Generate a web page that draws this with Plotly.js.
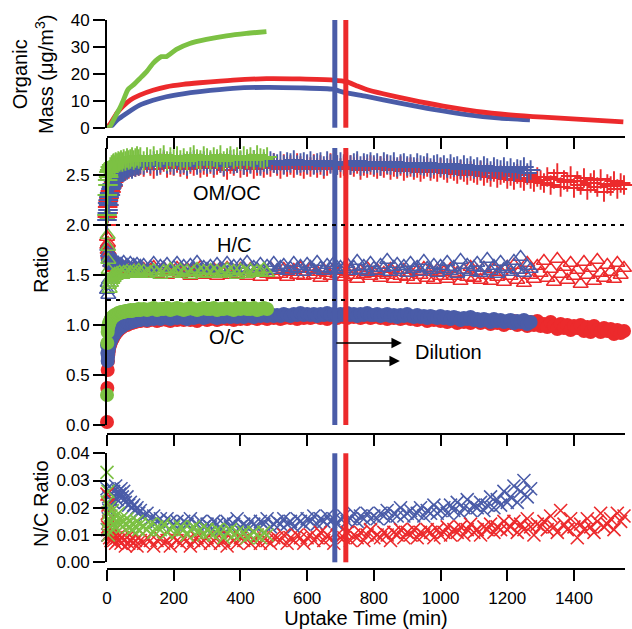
<!DOCTYPE html>
<html>
<head>
<meta charset="utf-8">
<script src="https://cdn.plot.ly/plotly-3.0.1.min.js"></script>
<style>
  html, body { margin: 0; padding: 0; background: #fff; }
  #chart { width: 632px; height: 629px; }
</style>
</head>
<body>
<div id="chart"></div>
<script>
// ---- Experiment colours ----
const RED = '#EC2A2C';
const BLUE = '#4A5CA8';
const GREEN = '#7CC143';

// ---- Organic mass (µg/m3) vs uptake time (min) ----
const massTimeGreen = [0, 8, 22, 38, 50, 63, 80, 98, 120, 138, 163, 178, 208, 248, 298, 358, 418, 478];
const massGreen     = [0, 0.3, 3.5, 7.2, 10.5, 14.2, 16.0, 18.2, 21.0, 23.9, 26.4, 26.4, 29.1, 31.3, 32.8, 34.1, 35.0, 35.7];

const massTimeRed = [0, 10, 30, 48, 70, 98, 138, 178, 228, 278, 378, 478, 578, 678, 718, 748, 778, 828, 908, 1008, 1108, 1208, 1308, 1408, 1548];
const massRed     = [0, 1.5, 5.5, 8.0, 10.3, 12.1, 13.9, 15.2, 16.1, 16.7, 17.7, 18.2, 18.1, 17.7, 17.1, 15.6, 14.2, 12.6, 10.4, 8.0, 6.1, 4.8, 3.9, 3.2, 2.2];

const massTimeBlue = [0, 8, 30, 58, 98, 138, 178, 228, 278, 378, 478, 578, 678, 708, 778, 878, 978, 1078, 1178, 1268];
const massBlue     = [0, 0, 2.8, 5.3, 8.4, 10.2, 11.5, 12.6, 13.4, 14.6, 15.0, 14.8, 14.3, 13.2, 11.6, 9.1, 6.8, 4.9, 3.6, 2.9];

// ---- Composition sampling times (min) ----
const tGreen = [0, 1, 2, 3, 4, 5, 6, 8, 10, 12, 14, 16, 18, 20, 23, 26, 30, 34, 38, 42,
  46, 50, 55, 60, 65, 70, 75, 80, 85, 90, 95, 100,
  110, 120, 130, 140, 150, 160, 170, 180, 190, 200,
  210, 220, 230, 240, 250, 260, 270, 280, 290, 300,
  310, 320, 330, 340, 350, 360, 370, 380, 390, 400,
  410, 420, 430, 440, 450, 460, 470, 480];

const tBlue = [0, 1, 2, 3, 4, 5, 6, 8, 10, 12, 14, 16, 18, 20, 23, 26, 30, 34, 38, 42,
  46, 50, 55, 60, 65, 70, 75, 80, 85, 90, 95, 100,
  110, 120, 130, 140, 150, 160, 170, 180, 190, 200,
  210, 220, 230, 240, 250, 260, 270, 280, 290, 300,
  310, 320, 330, 340, 350, 360, 370, 380, 390, 400,
  410, 420, 430, 440, 450, 460, 470, 480, 490, 500,
  510, 520, 530, 540, 550, 560, 570, 580, 590, 600,
  610, 620, 630, 640, 650, 660, 670, 680, 690, 700,
  710, 720, 730, 740, 750, 760, 770, 780, 790, 800,
  810, 820, 830, 840, 850, 860, 870, 880, 890, 900,
  910, 920, 930, 940, 950, 960, 970, 980, 990, 1000,
  1010, 1020, 1030, 1040, 1050, 1060, 1070, 1080, 1090, 1100,
  1110, 1120, 1130, 1140, 1150, 1160, 1170, 1180, 1190, 1200,
  1210, 1220, 1230, 1240, 1250, 1260, 1270];

const tRed = [0, 1, 2, 3, 4, 5, 6, 8, 10, 12, 14, 16, 18, 20, 23, 26, 30, 34, 38, 42,
  46, 50, 55, 60, 65, 70, 75, 80, 85, 90, 95, 100,
  110, 120, 130, 140, 150, 160, 170, 180, 190, 200,
  210, 220, 230, 240, 250, 260, 270, 280, 290, 300,
  310, 320, 330, 340, 350, 360, 370, 380, 390, 400,
  410, 420, 430, 440, 450, 460, 470, 480, 490, 500,
  510, 520, 530, 540, 550, 560, 570, 580, 590, 600,
  610, 620, 630, 640, 650, 660, 670, 680, 690, 700,
  710, 720, 730, 740, 750, 760, 770, 780, 790, 800,
  810, 820, 830, 840, 850, 860, 870, 880, 890, 900,
  910, 920, 930, 940, 950, 960, 970, 980, 990, 1000,
  1010, 1020, 1030, 1040, 1050, 1060, 1070, 1080, 1090, 1100,
  1110, 1120, 1130, 1140, 1150, 1160, 1170, 1180, 1190, 1200,
  1210, 1220, 1230, 1240, 1250, 1260, 1270, 1280, 1290, 1300,
  1310, 1320, 1330, 1340, 1350, 1360, 1370, 1380, 1390, 1400,
  1410, 1420, 1430, 1440, 1450, 1460, 1470, 1480, 1490, 1500,
  1510, 1520, 1530, 1540, 1550];

// ---- OM/OC ----
const omocGreen = [2.10, 2.30, 2.45, 2.40, 2.50, 2.48, 2.53, 2.55, 2.58, 2.56,
  2.60, 2.58, 2.61, 2.62, 2.60, 2.63, 2.62, 2.64, 2.63, 2.65,
  2.63, 2.66, 2.64, 2.67, 2.65, 2.66, 2.68, 2.65, 2.67, 2.69,
  2.66, 2.68,
  2.64, 2.68, 2.66, 2.69, 2.65, 2.67, 2.70, 2.64, 2.68, 2.66,
  2.69, 2.65, 2.67, 2.64, 2.68, 2.70, 2.66, 2.65, 2.69, 2.67,
  2.65, 2.68, 2.66, 2.70, 2.64, 2.67, 2.69, 2.66, 2.68, 2.65,
  2.69, 2.66, 2.68, 2.65, 2.70, 2.67, 2.66, 2.68];
const omocBlue = [2.05, 2.12, 2.22, 2.15, 2.25, 2.20, 2.28, 2.32, 2.30, 2.36,
  2.38, 2.41, 2.40, 2.44, 2.46, 2.45, 2.49, 2.51, 2.50, 2.53,
  2.54, 2.53, 2.56, 2.55, 2.57, 2.58, 2.56, 2.59, 2.58, 2.60,
  2.59, 2.61,
  2.60, 2.63, 2.61, 2.64, 2.59, 2.62, 2.65, 2.61, 2.63, 2.60,
  2.64, 2.61, 2.62, 2.59, 2.63, 2.65, 2.60, 2.62, 2.64, 2.61,
  2.63, 2.60, 2.64, 2.62, 2.59, 2.63, 2.65, 2.61, 2.62, 2.64,
  2.60, 2.63, 2.61, 2.65, 2.62, 2.59, 2.63, 2.61, 2.64, 2.62,
  2.61, 2.64, 2.60, 2.63, 2.62, 2.65, 2.60, 2.62, 2.63, 2.61,
  2.64, 2.60, 2.62, 2.63, 2.59, 2.64, 2.61, 2.62, 2.60, 2.63,
  2.61, 2.63, 2.60, 2.62, 2.64, 2.59, 2.62, 2.61, 2.63, 2.60,
  2.62, 2.59, 2.63, 2.61, 2.60, 2.63, 2.58, 2.61, 2.62, 2.59,
  2.61, 2.58, 2.62, 2.60, 2.59, 2.62, 2.57, 2.60, 2.61, 2.58,
  2.60, 2.57, 2.61, 2.58, 2.59, 2.56, 2.60, 2.57, 2.59, 2.56,
  2.58, 2.55, 2.59, 2.57, 2.54, 2.58, 2.56, 2.55, 2.58, 2.54,
  2.57, 2.53, 2.56, 2.55, 2.58, 2.52, 2.55];
const omocRed = [2.00, 2.08, 2.18, 2.12, 2.24, 2.20, 2.27, 2.30, 2.34, 2.33,
  2.37, 2.40, 2.39, 2.43, 2.45, 2.47, 2.48, 2.50, 2.52, 2.51,
  2.54, 2.55, 2.54, 2.57, 2.56, 2.58, 2.57, 2.59, 2.58, 2.60,
  2.59, 2.60,
  2.58, 2.62, 2.59, 2.56, 2.61, 2.60, 2.63, 2.57, 2.60, 2.59,
  2.62, 2.58, 2.60, 2.56, 2.61, 2.59, 2.63, 2.57, 2.60, 2.58,
  2.61, 2.57, 2.60, 2.62, 2.58, 2.55, 2.61, 2.59, 2.62, 2.57,
  2.60, 2.58, 2.62, 2.56, 2.59, 2.61, 2.57, 2.60, 2.58, 2.62,
  2.59, 2.56, 2.61, 2.58, 2.60, 2.57, 2.62, 2.59, 2.56, 2.60,
  2.58, 2.61, 2.57, 2.60, 2.56, 2.59, 2.62, 2.58, 2.60, 2.57,
  2.59, 2.56, 2.60, 2.58, 2.61, 2.55, 2.59, 2.57, 2.60, 2.58,
  2.56, 2.59, 2.57, 2.60, 2.55, 2.58, 2.56, 2.59, 2.54, 2.57,
  2.58, 2.55, 2.57, 2.53, 2.56, 2.58, 2.54, 2.56, 2.53, 2.57,
  2.55, 2.52, 2.56, 2.54, 2.51, 2.55, 2.53, 2.50, 2.54, 2.52,
  2.50, 2.54, 2.49, 2.52, 2.48, 2.53, 2.47, 2.50, 2.52, 2.46,
  2.49, 2.45, 2.51, 2.47, 2.44, 2.50, 2.46, 2.43, 2.48, 2.45,
  2.42, 2.48, 2.40, 2.46, 2.52, 2.38, 2.45, 2.43, 2.49, 2.37,
  2.44, 2.40, 2.47, 2.35, 2.42, 2.45, 2.38, 2.46, 2.33, 2.41,
  2.39, 2.44, 2.36, 2.42, 2.40];

// ---- H/C ----
const hcGreen = [2.48, 2.10, 1.90, 1.78, 1.65, 1.55, 1.40, 1.36, 1.45, 1.42,
  1.48, 1.45, 1.50, 1.47, 1.51, 1.49, 1.52, 1.50, 1.53, 1.51,
  1.50, 1.53, 1.52, 1.54, 1.51, 1.53, 1.52, 1.54, 1.51, 1.53,
  1.55, 1.52,
  1.54, 1.51, 1.53, 1.55, 1.52, 1.50, 1.54, 1.53, 1.56, 1.51,
  1.53, 1.55, 1.52, 1.54, 1.50, 1.53, 1.56, 1.52, 1.54, 1.51,
  1.55, 1.52, 1.54, 1.51, 1.53, 1.56, 1.52, 1.54, 1.50, 1.55,
  1.53, 1.51, 1.55, 1.52, 1.54, 1.53, 1.56, 1.52];
const hcBlue = [1.35, 1.78, 1.42, 1.72, 1.30, 1.68, 1.45, 1.66, 1.62, 1.70,
  1.64, 1.60, 1.66, 1.62, 1.59, 1.64, 1.60, 1.62, 1.58, 1.61,
  1.59, 1.63, 1.57, 1.60, 1.58, 1.62, 1.56, 1.60, 1.58, 1.61,
  1.57, 1.59,
  1.60, 1.55, 1.58, 1.62, 1.54, 1.59, 1.57, 1.61, 1.53, 1.58,
  1.62, 1.56, 1.59, 1.54, 1.60, 1.57, 1.63, 1.55, 1.58, 1.56,
  1.59, 1.54, 1.61, 1.57, 1.55, 1.62, 1.56, 1.59, 1.53, 1.60,
  1.57, 1.63, 1.55, 1.58, 1.56, 1.61, 1.54, 1.59, 1.57, 1.62,
  1.55, 1.58, 1.60, 1.54, 1.57, 1.62, 1.56, 1.59, 1.53, 1.61,
  1.58, 1.55, 1.63, 1.57, 1.54, 1.60, 1.56, 1.62, 1.55, 1.58,
  1.56, 1.61, 1.54, 1.58, 1.64, 1.55, 1.59, 1.53, 1.62, 1.57,
  1.54, 1.60, 1.57, 1.65, 1.53, 1.58, 1.61, 1.55, 1.59, 1.52,
  1.62, 1.56, 1.58, 1.53, 1.64, 1.57, 1.55, 1.60, 1.52, 1.59,
  1.56, 1.63, 1.54, 1.58, 1.51, 1.65, 1.55, 1.60, 1.53, 1.58,
  1.62, 1.52, 1.57, 1.66, 1.54, 1.59, 1.51, 1.63, 1.56, 1.58,
  1.53, 1.64, 1.55, 1.68, 1.52, 1.59, 1.56];
const hcRed = [1.88, 1.80, 1.75, 1.82, 1.70, 1.74, 1.66, 1.70, 1.62, 1.66,
  1.60, 1.63, 1.58, 1.61, 1.57, 1.60, 1.56, 1.59, 1.55, 1.58,
  1.56, 1.54, 1.58, 1.55, 1.57, 1.53, 1.56, 1.54, 1.57, 1.53,
  1.56, 1.54,
  1.56, 1.52, 1.55, 1.58, 1.51, 1.54, 1.57, 1.50, 1.55, 1.53,
  1.57, 1.51, 1.54, 1.56, 1.49, 1.55, 1.52, 1.58, 1.50, 1.54,
  1.52, 1.56, 1.49, 1.55, 1.53, 1.57, 1.50, 1.54, 1.51, 1.56,
  1.53, 1.49, 1.56, 1.52, 1.55, 1.48, 1.54, 1.51, 1.57, 1.50,
  1.54, 1.51, 1.56, 1.48, 1.53, 1.55, 1.50, 1.57, 1.49, 1.53,
  1.56, 1.50, 1.53, 1.47, 1.55, 1.52, 1.49, 1.56, 1.51, 1.54,
  1.48, 1.53, 1.56, 1.50, 1.46, 1.54, 1.51, 1.57, 1.49, 1.52,
  1.55, 1.47, 1.52, 1.50, 1.56, 1.46, 1.53, 1.49, 1.55, 1.48,
  1.52, 1.45, 1.54, 1.50, 1.57, 1.47, 1.53, 1.45, 1.55, 1.49,
  1.53, 1.46, 1.56, 1.49, 1.52, 1.44, 1.55, 1.48, 1.58, 1.47,
  1.54, 1.45, 1.57, 1.50, 1.44, 1.56, 1.48, 1.53, 1.43, 1.58,
  1.49, 1.60, 1.45, 1.55, 1.42, 1.62, 1.50, 1.46, 1.59, 1.52,
  1.64, 1.47, 1.56, 1.43, 1.66, 1.51, 1.58, 1.45, 1.62, 1.49,
  1.55, 1.41, 1.63, 1.50, 1.57, 1.44, 1.65, 1.52, 1.47, 1.60,
  1.53, 1.46, 1.62, 1.50, 1.57];

// ---- O/C ----
const ocGreen = [0.30, 0.82, 0.93, 0.97, 0.99, 1.00, 1.02, 1.03, 1.05, 1.06,
  1.07, 1.08, 1.08, 1.09, 1.10, 1.10, 1.11, 1.12, 1.12, 1.13,
  1.13, 1.13, 1.14, 1.14, 1.14, 1.15, 1.14, 1.15, 1.15, 1.15,
  1.16, 1.15,
  1.16, 1.15, 1.16, 1.17, 1.15, 1.16, 1.16, 1.17, 1.15, 1.16,
  1.17, 1.16, 1.15, 1.16, 1.17, 1.16, 1.15, 1.16, 1.17, 1.16,
  1.16, 1.17, 1.15, 1.16, 1.16, 1.17, 1.16, 1.15, 1.17, 1.16,
  1.17, 1.16, 1.16, 1.17, 1.15, 1.16, 1.17, 1.16];
const ocBlue = [0.80, 0.72, 0.64, 0.68, 0.73, 0.76, 0.78, 0.81, 0.83, 0.85,
  0.86, 0.88, 0.89, 0.90, 0.92, 0.93, 0.95, 0.96, 0.97, 0.98,
  0.99, 1.00, 1.01, 1.02, 1.02, 1.03, 1.03, 1.04, 1.04, 1.05,
  1.05, 1.05,
  1.06, 1.05, 1.07, 1.06, 1.07, 1.06, 1.08, 1.07, 1.06, 1.08,
  1.07, 1.08, 1.07, 1.06, 1.08, 1.07, 1.08, 1.09, 1.07, 1.08,
  1.09, 1.08, 1.07, 1.09, 1.08, 1.09, 1.08, 1.10, 1.08, 1.09,
  1.08, 1.10, 1.09, 1.08, 1.10, 1.09, 1.10, 1.09, 1.11, 1.09,
  1.10, 1.09, 1.11, 1.10, 1.09, 1.11, 1.10, 1.12, 1.10, 1.11,
  1.10, 1.11, 1.09, 1.11, 1.10, 1.12, 1.10, 1.11, 1.09, 1.11,
  1.10, 1.12, 1.10, 1.11, 1.09, 1.11, 1.10, 1.12, 1.10, 1.10,
  1.11, 1.09, 1.10, 1.11, 1.09, 1.10, 1.08, 1.10, 1.09, 1.11,
  1.09, 1.08, 1.10, 1.08, 1.09, 1.07, 1.09, 1.08, 1.07, 1.09,
  1.07, 1.08, 1.06, 1.08, 1.07, 1.05, 1.07, 1.06, 1.08, 1.05,
  1.06, 1.04, 1.06, 1.05, 1.03, 1.06, 1.04, 1.05, 1.03, 1.04,
  1.05, 1.02, 1.04, 1.03, 1.05, 1.01, 1.03];
const ocRed = [0.03, 0.37, 0.55, 0.64, 0.70, 0.73, 0.76, 0.79, 0.81, 0.83,
  0.85, 0.86, 0.87, 0.89, 0.90, 0.92, 0.93, 0.95, 0.96, 0.97,
  0.98, 0.99, 1.00, 1.00, 1.01, 1.02, 1.02, 1.03, 1.03, 1.04,
  1.04, 1.04,
  1.05, 1.04, 1.05, 1.06, 1.04, 1.05, 1.06, 1.05, 1.04, 1.06,
  1.05, 1.06, 1.05, 1.07, 1.05, 1.06, 1.04, 1.06, 1.07, 1.05,
  1.06, 1.07, 1.05, 1.06, 1.08, 1.06, 1.07, 1.05, 1.07, 1.06,
  1.07, 1.06, 1.08, 1.07, 1.06, 1.08, 1.07, 1.06, 1.08, 1.07,
  1.08, 1.06, 1.07, 1.09, 1.07, 1.08, 1.06, 1.08, 1.07, 1.09,
  1.07, 1.08, 1.09, 1.07, 1.08, 1.06, 1.09, 1.08, 1.07, 1.09,
  1.08, 1.07, 1.09, 1.08, 1.10, 1.07, 1.08, 1.09, 1.07, 1.08,
  1.09, 1.07, 1.08, 1.06, 1.08, 1.07, 1.09, 1.06, 1.07, 1.08,
  1.06, 1.07, 1.05, 1.07, 1.06, 1.04, 1.06, 1.05, 1.07, 1.04,
  1.05, 1.03, 1.05, 1.04, 1.02, 1.05, 1.03, 1.04, 1.02, 1.04,
  1.04, 1.02, 1.05, 1.03, 1.01, 1.04, 1.02, 1.03, 1.00, 1.03,
  1.02, 1.04, 1.00, 1.03, 1.01, 0.99, 1.03, 1.00, 1.04, 0.99,
  1.01, 0.98, 1.03, 0.99, 0.96, 1.01, 0.97, 1.00, 0.95, 0.99,
  0.97, 1.00, 0.94, 0.98, 0.93, 0.99, 0.95, 0.93, 0.97, 0.94,
  0.96, 0.91, 0.95, 0.92, 0.94];

// ---- N/C ----
const ncGreen = [0.033, 0.022, 0.012, 0.026, 0.010, 0.018, 0.015, 0.020, 0.013, 0.017,
  0.015, 0.019, 0.014, 0.016, 0.013, 0.017, 0.015, 0.018, 0.014, 0.016,
  0.013, 0.015, 0.014, 0.016, 0.013, 0.015, 0.012, 0.014, 0.013, 0.015,
  0.012, 0.014,
  0.013, 0.012, 0.014, 0.011, 0.013, 0.012, 0.014, 0.011, 0.012, 0.013,
  0.011, 0.013, 0.012, 0.010, 0.012, 0.013, 0.011, 0.012, 0.010, 0.012,
  0.011, 0.010, 0.012, 0.011, 0.009, 0.011, 0.012, 0.010, 0.011, 0.010,
  0.011, 0.009, 0.010, 0.011, 0.010, 0.009, 0.011, 0.010];
const ncBlue = [0.027, 0.012, 0.010, 0.022, 0.016, 0.024, 0.019, 0.026, 0.021, 0.025,
  0.023, 0.027, 0.022, 0.026, 0.024, 0.028, 0.023, 0.026, 0.025, 0.027,
  0.024, 0.026, 0.022, 0.024, 0.021, 0.022, 0.020, 0.021, 0.019, 0.020,
  0.018, 0.019,
  0.017, 0.018, 0.016, 0.017, 0.015, 0.016, 0.014, 0.016, 0.015, 0.014,
  0.015, 0.013, 0.015, 0.014, 0.016, 0.013, 0.014, 0.015, 0.013, 0.014,
  0.013, 0.015, 0.014, 0.012, 0.014, 0.015, 0.013, 0.014, 0.016, 0.013,
  0.014, 0.013, 0.015, 0.014, 0.013, 0.015, 0.014, 0.016, 0.013, 0.014,
  0.015, 0.014, 0.016, 0.014, 0.015, 0.013, 0.016, 0.015, 0.014, 0.016,
  0.015, 0.017, 0.014, 0.016, 0.015, 0.017, 0.015, 0.016, 0.014, 0.016,
  0.017, 0.015, 0.016, 0.018, 0.015, 0.017, 0.016, 0.018, 0.016, 0.017,
  0.016, 0.018, 0.017, 0.019, 0.016, 0.018, 0.017, 0.020, 0.017, 0.018,
  0.019, 0.017, 0.018, 0.020, 0.017, 0.019, 0.018, 0.021, 0.018, 0.019,
  0.020, 0.018, 0.021, 0.019, 0.022, 0.018, 0.020, 0.023, 0.019, 0.021,
  0.020, 0.022, 0.019, 0.021, 0.024, 0.020, 0.023, 0.021, 0.026, 0.022,
  0.024, 0.028, 0.022, 0.026, 0.030, 0.024, 0.027];
const ncRed = [0.025, 0.018, 0.013, 0.021, 0.010, 0.015, 0.012, 0.009, 0.011, 0.008,
  0.010, 0.009, 0.011, 0.008, 0.010, 0.007, 0.009, 0.008, 0.010, 0.007,
  0.009, 0.008, 0.006, 0.009, 0.007, 0.008, 0.009, 0.007, 0.008, 0.006,
  0.009, 0.008,
  0.007, 0.009, 0.008, 0.006, 0.008, 0.009, 0.007, 0.008, 0.006, 0.009,
  0.008, 0.007, 0.009, 0.008, 0.006, 0.008, 0.009, 0.007, 0.008, 0.009,
  0.007, 0.008, 0.009, 0.007, 0.008, 0.006, 0.009, 0.008, 0.007, 0.009,
  0.008, 0.009, 0.007, 0.008, 0.010, 0.007, 0.009, 0.008, 0.007, 0.009,
  0.009, 0.008, 0.010, 0.007, 0.009, 0.008, 0.010, 0.009, 0.007, 0.009,
  0.010, 0.008, 0.009, 0.011, 0.008, 0.010, 0.009, 0.007, 0.010, 0.009,
  0.009, 0.011, 0.008, 0.010, 0.009, 0.011, 0.008, 0.010, 0.012, 0.009,
  0.010, 0.009, 0.011, 0.010, 0.008, 0.011, 0.010, 0.012, 0.009, 0.011,
  0.010, 0.012, 0.009, 0.011, 0.010, 0.012, 0.011, 0.009, 0.012, 0.010,
  0.011, 0.013, 0.010, 0.012, 0.011, 0.013, 0.010, 0.012, 0.014, 0.011,
  0.012, 0.010, 0.013, 0.012, 0.014, 0.011, 0.013, 0.012, 0.015, 0.012,
  0.013, 0.015, 0.011, 0.014, 0.012, 0.016, 0.013, 0.010, 0.014, 0.013,
  0.015, 0.012, 0.017, 0.013, 0.011, 0.019, 0.014, 0.012, 0.016, 0.013,
  0.009, 0.014, 0.012, 0.016, 0.013, 0.011, 0.015, 0.018, 0.013, 0.014,
  0.016, 0.012, 0.018, 0.015, 0.017];

// ---- Dilution start (min) and guide levels ----
const dilutionStartBlue = 683;
const dilutionStartRed = 716;
const separatorLevels = [2.0, 1.25];

const FONT = 'Liberation Sans, Arial, Helvetica, sans-serif';

function massLine(x, y, color, name) {
  return { type: 'scatter', mode: 'lines', x, y, name, xaxis: 'x3', yaxis: 'y3',
           line: { color, width: 4.8, shape: 'spline', smoothing: 0.6 } };
}
function pts(x, y, color, symbol, size, ax, ay, name, lw) {
  const filled = symbol === 'circle';
  return { type: 'scatter', mode: 'markers', x, y, name, xaxis: ax, yaxis: ay, cliponaxis: false,
           marker: { symbol, size, color,
                     line: { color, width: filled ? 0 : (lw || 1.5) } } };
}

const traces = [
  // organic mass
  massLine(massTimeBlue, massBlue, BLUE, 'mass blue'),
  massLine(massTimeRed, massRed, RED, 'mass red'),
  massLine(massTimeGreen, massGreen, GREEN, 'mass green'),
  // elemental ratios
  pts(tRed, ocRed, RED, 'circle', 14, 'x2', 'y2', 'O/C red'),
  pts(tBlue, ocBlue, BLUE, 'circle', 14, 'x2', 'y2', 'O/C blue'),
  pts(tGreen, ocGreen, GREEN, 'circle', 14, 'x2', 'y2', 'O/C green'),
  pts(tRed, hcRed, RED, 'triangle-up-open', 13, 'x2', 'y2', 'H/C red', 1.5),
  pts(tBlue, hcBlue, BLUE, 'triangle-up-open', 13, 'x2', 'y2', 'H/C blue', 1.5),
  pts(tGreen, hcGreen, GREEN, 'triangle-up-open', 13, 'x2', 'y2', 'H/C green', 1.5),
  pts(tRed, omocRed, RED, 'cross-thin-open', 14, 'x2', 'y2', 'OM/OC red', 1.9),
  pts(tBlue, omocBlue, BLUE, 'cross-thin-open', 14, 'x2', 'y2', 'OM/OC blue', 1.9),
  pts(tGreen, omocGreen, GREEN, 'cross-thin-open', 14, 'x2', 'y2', 'OM/OC green', 1.9),
  // nitrogen
  pts(tBlue, ncBlue, BLUE, 'x-thin-open', 13, 'x', 'y', 'N/C blue', 1.6),
  pts(tRed, ncRed, RED, 'x-thin-open', 13, 'x', 'y', 'N/C red', 1.6),
  pts(tGreen, ncGreen, GREEN, 'x-thin-open', 13, 'x', 'y', 'N/C green', 1.6)
];

const xCommon = {
  range: [0, 1553], domain: [0, 1], anchor: 'free', showline: true, linewidth: 2, linecolor: '#000',
  ticks: 'outside', ticklen: 11, tickwidth: 2, tickcolor: '#000', tick0: 0, dtick: 200,
  showgrid: false, zeroline: false
};
const yCommon = {
  showline: true, linewidth: 2, linecolor: '#000', ticks: 'outside', ticklen: 12, tickwidth: 2,
  tickcolor: '#000', showgrid: false, zeroline: false, tickfont: { size: 17 }
};

// vertical dilution markers in each panel plus dotted separators
const shapes = [];
[['y', 'y domain'], ['y2', 'y2 domain'], ['y3', 'y3 domain']].forEach(([ya, yd]) => {
  const xa = ya.replace('y', 'x');
  [[dilutionStartBlue, BLUE], [dilutionStartRed, RED]].forEach(([t, c]) => {
    shapes.push({ type: 'line', xref: xa, yref: yd, x0: t, x1: t, y0: 0, y1: 1,
                  line: { color: c, width: 5 } });
  });
});
separatorLevels.forEach(v => {
  shapes.push({ type: 'line', xref: 'x2 domain', yref: 'y2', x0: 0, x1: 1, y0: v, y1: v,
                line: { color: '#000', width: 2, dash: '4px,5px' } });
});

const annotations = [
  { text: 'OM/OC', x: 360, y: 2.32, xref: 'x2', yref: 'y2', showarrow: false, font: { size: 20 } },
  { text: 'H/C', x: 380, y: 1.80, xref: 'x2', yref: 'y2', showarrow: false, font: { size: 20 } },
  { text: 'O/C', x: 360, y: 0.88, xref: 'x2', yref: 'y2', showarrow: false, font: { size: 20 } },
  { text: 'Dilution', x: 1025, y: 0.73, xref: 'x2', yref: 'y2', showarrow: false, font: { size: 20 } },
  { text: '', x: 884, y: 0.82, ax: dilutionStartBlue, ay: 0.82, xref: 'x2', yref: 'y2', axref: 'x2', ayref: 'y2',
    showarrow: true, arrowhead: 2, arrowsize: 1.3, arrowwidth: 1.6, arrowcolor: '#000' },
  { text: '', x: 878, y: 0.64, ax: dilutionStartRed, ay: 0.64, xref: 'x2', yref: 'y2', axref: 'x2', ayref: 'y2',
    showarrow: true, arrowhead: 2, arrowsize: 1.3, arrowwidth: 1.6, arrowcolor: '#000' },
  { text: 'Organic<br>Mass (μg/m<sup>3</sup>)', x: -0.1429, y: 0.9016, xref: 'paper', yref: 'paper',
    textangle: -90, showarrow: false, xanchor: 'center', yanchor: 'middle', font: { size: 20 } },
  { text: 'Ratio', x: -0.1274, y: 0.5446, xref: 'paper', yref: 'paper',
    textangle: -90, showarrow: false, xanchor: 'center', yanchor: 'middle', font: { size: 20 } },
  { text: 'N/C Ratio', x: -0.1274, y: 0.1184, xref: 'paper', yref: 'paper',
    textangle: -90, showarrow: false, xanchor: 'center', yanchor: 'middle', font: { size: 20 } }
];

const layout = {
  width: 632, height: 629,
  margin: { l: 107, r: 7, t: 20, b: 60 },
  paper_bgcolor: '#fff', plot_bgcolor: 'rgba(0,0,0,0)',
  showlegend: false,
  font: { family: FONT, size: 17, color: '#000' },
  xaxis: Object.assign({}, xCommon, { position: 0, tickfont: { size: 17 }, ticklabelstandoff: 3,
    title: { text: 'Uptake Time (min)', font: { size: 20 }, standoff: 9 } }),
  xaxis2: Object.assign({}, xCommon, { position: 0.2459, showticklabels: false }),
  xaxis3: Object.assign({}, xCommon, { position: 0.7869, showticklabels: false }),
  yaxis: Object.assign({}, yCommon, { domain: [0.0122, 0.2108], range: [0, 0.04], anchor: 'x',
    tick0: 0, dtick: 0.01, tickformat: '.2f' }),
  yaxis2: Object.assign({}, yCommon, { domain: [0.2623, 0.7668], range: [0, 2.77], anchor: 'x2',
    tick0: 0, dtick: 0.5, tickformat: '.1f' }),
  yaxis3: Object.assign({}, yCommon, { domain: [0.8038, 1], range: [0, 40], anchor: 'x3',
    tick0: 0, dtick: 10 }),
  shapes, annotations
};

Plotly.newPlot('chart', traces, layout, { displayModeBar: false, staticPlot: true });
</script>
</body>
</html>
